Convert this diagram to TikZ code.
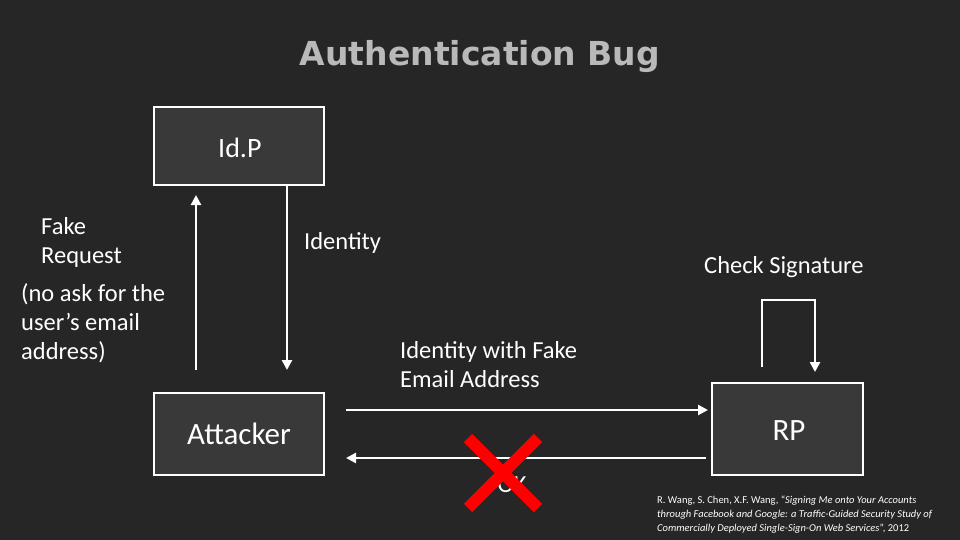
\documentclass[tikz,border=0pt]{standalone}
\usepackage{fontspec}
\setmainfont{Carlito}
\newfontfamily\titlefont{DejaVu Sans}
\usetikzlibrary{arrows.meta}
\begin{document}
\begin{tikzpicture}[x=1pt,y=-1pt,
  box/.style={draw=white,line width=1.5pt,fill=boxgray,minimum width=170pt,minimum height=78pt,inner sep=0pt},
  lbl/.style={text=white,font=\fontsize{24.5}{29}\selectfont,align=left,inner sep=0pt},
  arr/.style={draw=white,line width=2.6pt,-{Triangle[length=10pt,width=10pt]}}]
\definecolor{bg}{HTML}{262626}
\definecolor{boxgray}{HTML}{393939}
\useasboundingbox (0,0) rectangle (960,540);
\fill[bg] (0,0) rectangle (960,540);
\node[text=gray!55,draw=gray!85,line width=0pt,font=\titlefont\bfseries\fontsize{33}{38}\selectfont,draw=none] (title) at (480,57) {Authentication Bug};
\node[box] (idp) at (239,146) {};
\node[lbl,anchor=west,font=\fontsize{28}{32}\selectfont] (idpl) at (218,148) {Id.P};
\node[box,minimum height=82pt] (att) at (239,434) {};
\node[lbl,font=\fontsize{31}{34}\selectfont] (attl) at (239,434) {Attacker};
\node[box,minimum width=151pt,minimum height=92pt] (rp) at (787.5,429) {};
\node[lbl,font=\fontsize{31}{34}\selectfont] (rpl) at (789,431) {RP};
\coordinate (upA) at (196,370); \coordinate (upB) at (196,195);
\coordinate (dnA) at (287,186); \coordinate (dnB) at (287,370);
\draw[arr] (upA) -- (upB);
\draw[arr] (dnA) -- (dnB);
\node[lbl,anchor=north west] (fake) at (41,217) {Fake\\Request};
\node[lbl,anchor=north west] (noask) at (21,283) {(no ask for the\\user's email\\address)};
\node[lbl,anchor=north west] (ident) at (304,232) {Identity};
\node[lbl,anchor=north west] (check) at (704,256) {Check Signature};
\coordinate (l1) at (762,367); \coordinate (l2) at (762,300); \coordinate (l3) at (815,300); \coordinate (l4) at (815,372);
\draw[arr] (l1) -- (l2) -- (l3) -- (l4);
\node[lbl,anchor=north west] (fakeem) at (400,341) {Identity with Fake\\Email Address};
\coordinate (rA) at (346,410); \coordinate (rB) at (708,410);
\draw[arr] (rA) -- (rB);
\coordinate (lA) at (706,458); \coordinate (lB) at (346,458);
\draw[arr] (lA) -- (lB);
\node[lbl] (ok) at (512,485) {OK};
\coordinate (x1) at (468,438); \coordinate (x2) at (538,508);
\coordinate (x3) at (538,438); \coordinate (x4) at (468,508);
\draw[red,line width=12pt] (x1) -- (x2) (x3) -- (x4);
\node[lbl,anchor=north west,font=\fontsize{10.5}{14}\selectfont] (cite) at (657,496) {R. Wang, S. Chen, X.F. Wang, ``\textit{Signing Me onto Your Accounts}\\\textit{through Facebook and Google: a Traffic-Guided Security Study of}\\\textit{Commercially Deployed Single-Sign-On Web Services}'', 2012};
\end{tikzpicture}
\end{document}
